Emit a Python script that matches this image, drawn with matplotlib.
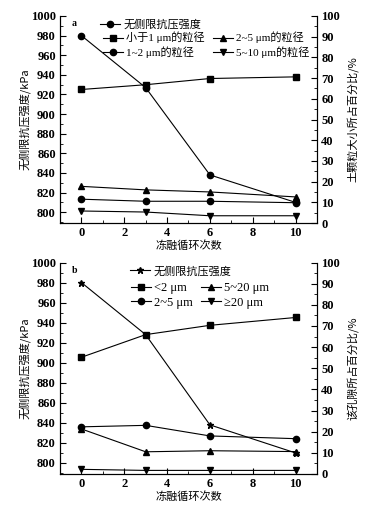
import matplotlib.pyplot as plt
from matplotlib.ticker import MultipleLocator

plt.rcParams['font.family'] = ['Liberation Serif', 'Noto Sans CJK SC', 'DejaVu Sans']
plt.rcParams['font.weight'] = 'bold'

cycles = [0, 3, 6, 10]

# panel a
strength_a = [980, 927, 838, 810]
lt1_a = [64.5, 66.8, 69.8, 70.6]
r1_2_a = [11.5, 10.5, 10.5, 9.8]
r2_5_a = [17.7, 16.0, 15.0, 12.6]
r5_10_a = [5.8, 5.3, 3.5, 3.5]

# panel b
strength_b = [980, 928, 838, 810]
lt2_b = [55.2, 65.9, 70.3, 74.0]
r2_5_b = [22.3, 23.0, 18.0, 16.7]
r5_20_b = [21.3, 10.5, 11.0, 10.6]
ge20_b = [2.2, 1.7, 1.7, 1.7]

cjk = ['Noto Sans CJK SC', 'DejaVu Sans']
tfont = ['Liberation Serif', 'Noto Sans CJK SC', 'DejaVu Sans']

fig = plt.figure(figsize=(3.82, 5.08), dpi=100)

L, W = 60 / 382, (317 - 60) / 382


def setup(ax, ax2, right_label):
    ax.set_xlim(-1, 11)
    ax.set_ylim(789, 1000)
    ax2.set_ylim(0, 100)
    for a in (ax, ax2):
        a.spines['top'].set_visible(False)
        for s in a.spines.values():
            s.set_linewidth(0.8)
    ax.xaxis.set_major_locator(MultipleLocator(2))
    ax.xaxis.set_minor_locator(MultipleLocator(1))
    ax.yaxis.set_major_locator(MultipleLocator(20))
    ax.yaxis.set_minor_locator(MultipleLocator(10))
    ax2.yaxis.set_major_locator(MultipleLocator(10))
    ax2.yaxis.set_minor_locator(MultipleLocator(5))
    ax.tick_params(axis='both', which='major', direction='in', length=4, width=0.8, labelsize=9, pad=3)
    ax.tick_params(axis='both', which='minor', direction='in', length=2, width=0.6)
    ax.tick_params(axis='x', top=False, which='both')
    ax2.tick_params(which='major', direction='in', length=4, width=0.8, labelsize=9, pad=3)
    ax2.tick_params(which='minor', direction='in', length=2, width=0.6)
    ax.set_xlabel('冻融循环次数', family=cjk, fontsize=8, fontweight='normal', labelpad=1)
    ax.set_ylabel('无侧限抗压强度/kPa', family=cjk, fontsize=8, fontweight='normal', labelpad=0)
    ax2.set_ylabel(right_label, family=cjk, fontsize=8, fontweight='normal', labelpad=5)


kw = dict(color='black', lw=0.8, markersize=4.5)
lprop = {'family': tfont, 'size': 8, 'weight': 'normal'}

# ---- panel a ----
ax = fig.add_axes([L, 1 - 223 / 508, W, (223 - 16) / 508])
ax2 = ax.twinx()
setup(ax, ax2, '土颗粒大小所占百分比/%')
h0, = ax.plot(cycles, strength_a, marker='o', label='无侧限抗压强度', **kw)
h1, = ax2.plot(cycles, lt1_a, marker='s', label='小于1 μm的粒径', **kw)
h2, = ax2.plot(cycles, r1_2_a, marker='o', label='1~2 μm的粒径', **kw)
h3, = ax2.plot(cycles, r2_5_a, marker='^', label='2~5 μm的粒径', **kw)
h4, = ax2.plot(cycles, r5_10_a, marker='v', label='5~10 μm的粒径', **kw)
ax.text(0.045, 0.985, 'a', transform=ax.transAxes, fontsize=7, fontweight='bold', va='top')
leg1 = ax2.legend(handles=[h0], loc='upper left', bbox_to_anchor=(0.14, 1.005), frameon=False,
                  prop=lprop, handlelength=1.8, handletextpad=0.3, borderaxespad=0)
ax2.add_artist(leg1)
ax2.legend(handles=[h1, h2, h3, h4], ncol=2, loc='upper left', bbox_to_anchor=(0.15, 0.945),
           frameon=False, prop=lprop, handlelength=1.8, handletextpad=0.3,
           columnspacing=0.7, labelspacing=0.25, borderaxespad=0)

# ---- panel b ----
bx = fig.add_axes([L, 1 - 474 / 508, W, (474 - 262.5) / 508])
bx2 = bx.twinx()
setup(bx, bx2, '该孔隙所占百分比/%')
g0, = bx.plot(cycles, strength_b, marker='*', label='无侧限抗压强度', **kw)
g1, = bx2.plot(cycles, lt2_b, marker='s', label='<2 μm', **kw)
g2, = bx2.plot(cycles, r2_5_b, marker='o', label='2~5 μm', **kw)
g3, = bx2.plot(cycles, r5_20_b, marker='^', label='5~20 μm', **kw)
g4, = bx2.plot(cycles, ge20_b, marker='v', label='≥20 μm', **kw)
bx.text(0.045, 0.985, 'b', transform=bx.transAxes, fontsize=7, fontweight='bold', va='top')
leg2 = bx2.legend(handles=[g0], loc='upper left', bbox_to_anchor=(0.255, 1.005), frameon=False,
                  prop=lprop, handlelength=1.8, handletextpad=0.3, borderaxespad=0)
bx2.add_artist(leg2)
bx2.legend(handles=[g1, g2, g3, g4], ncol=2, loc='upper left', bbox_to_anchor=(0.255, 0.93),
           frameon=False, prop={'family': tfont, 'size': 9, 'weight': 'normal'}, handlelength=1.6,
           handletextpad=0.3, columnspacing=0.6, labelspacing=0.2, borderaxespad=0)

fig.savefig('out.png', dpi=100)
